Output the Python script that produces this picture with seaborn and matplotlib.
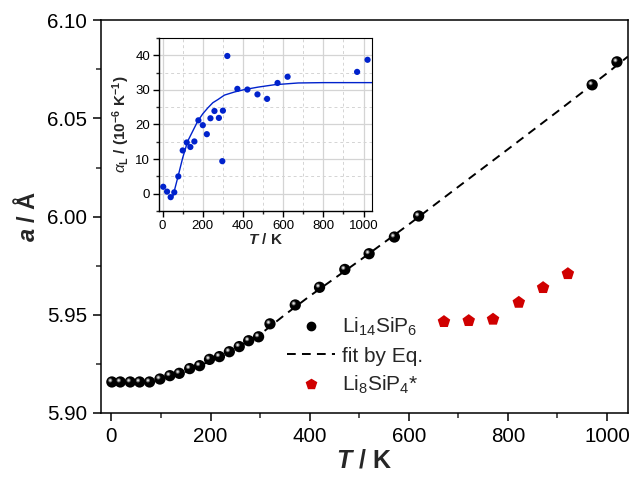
import numpy as np
import pandas as pd
import seaborn as sns
import matplotlib
matplotlib.use("Agg")
import matplotlib.pyplot as plt
from matplotlib.ticker import MultipleLocator, FormatStrFormatter
from matplotlib.transforms import offset_copy
from matplotlib.lines import Line2D

# ---------------- data ----------------
T_li14 = [1, 18, 38, 57, 77, 98, 118, 137, 158, 178, 198, 218, 238, 258, 277, 297,
          320, 371, 420, 471, 520, 571, 620, 970, 1020]
a_li14 = [5.9158, 5.9158, 5.9158, 5.9158, 5.9158, 5.9173, 5.9190, 5.9202, 5.9226, 5.9241,
          5.9273, 5.9287, 5.9312, 5.9338, 5.9368, 5.9388, 5.9454, 5.9550, 5.9640, 5.9731,
          5.9811, 5.9896, 6.0003, 6.0671, 6.0788]

T_fit = [0, 50, 100, 150, 200, 250, 300, 350, 400, 450, 500, 600, 700, 800, 900, 1000, 1042]
a_fit = [5.9157, 5.9158, 5.9170, 5.9210, 5.9265, 5.9328, 5.9400, 5.9500, 5.9595, 5.9685,
         5.9775, 5.9960, 6.0152, 6.0343, 6.0535, 6.0730, 6.0815]

T_li8 = [671, 721, 770, 822, 871, 921]
a_li8 = [5.9465, 5.9470, 5.9477, 5.9563, 5.9638, 5.9709]

T_alpha = [3, 22, 40, 58, 78, 100, 120, 138, 158, 178, 200, 220, 238, 258, 280, 300, 297,
           322, 372, 422, 472, 520, 572, 622, 968, 1020]
alpha = [2.0, 0.6, -1.0, 0.4, 5.0, 12.5, 14.8, 13.5, 15.1, 21.2, 19.8, 17.2, 21.8, 23.9,
         21.9, 24.0, 9.4, 39.8, 30.3, 30.1, 28.7, 27.4, 32.0, 33.8, 35.2, 38.7]

T_afit = [50, 75, 100, 125, 150, 175, 200, 225, 250, 275, 308, 358, 408, 475, 558, 675, 800, 1045]
alpha_fit = [-1.0, 4.6, 10.4, 15.2, 18.1, 21.0, 23.1, 24.8, 26.3, 27.2, 28.5, 29.4, 30.1,
             30.8, 31.5, 32.0, 32.1, 32.1]

xticks_main = [0, 200, 400, 600, 800, 1000]
yticks_main = [5.90, 5.95, 6.00, 6.05, 6.10]
yticks_inset = [0, 10, 20, 30, 40]

df_li14 = pd.DataFrame({"T": T_li14, "a": a_li14})
df_fit = pd.DataFrame({"T": T_fit, "a": a_fit})
df_li8 = pd.DataFrame({"T": T_li8, "a": a_li8})
df_alpha = pd.DataFrame({"T": T_alpha, "alpha": alpha})
df_afit = pd.DataFrame({"T": T_afit, "alpha": alpha_fit})

# ---------------- style ----------------
sns.set_theme(style="ticks")
plt.rcParams["font.family"] = ["Liberation Sans", "DejaVu Sans"]
plt.rcParams["mathtext.fontset"] = "custom"
plt.rcParams["mathtext.rm"] = "Liberation Sans"
plt.rcParams["mathtext.it"] = "Liberation Sans:italic"
plt.rcParams["mathtext.bf"] = "Liberation Sans:bold"
plt.rcParams["mathtext.bfit"] = "Liberation Sans:bold:italic"
plt.rcParams["axes.linewidth"] = 1.1

fig = plt.figure(figsize=(6.31, 4.79), dpi=100)
ax = fig.add_axes([0.160, 0.1378, 0.835, 0.820])

BLUE = "#0022CC"
RED = "#D00000"

# fit line
sns.lineplot(data=df_fit, x="T", y="a", ax=ax, color="black", lw=1.4,
             linestyle=(0, (4.5, 3.2)), zorder=2, sort=False)
# sphere-like black markers
sns.scatterplot(data=df_li14, x="T", y="a", ax=ax, color="black", s=66,
                edgecolor="none", linewidth=0, zorder=3)
hl1 = offset_copy(ax.transData, fig=fig, x=-1.6, y=1.6, units="dots")
sns.scatterplot(data=df_li14, x="T", y="a", ax=ax, color="#6a6a6a", s=9,
                edgecolor="none", linewidth=0, zorder=4, transform=hl1)
sns.scatterplot(data=df_li14, x="T", y="a", ax=ax, color="#e0e0e0", s=2.5,
                edgecolor="none", linewidth=0, zorder=5, transform=hl1)
# red pentagons
sns.scatterplot(data=df_li8, x="T", y="a", ax=ax, color=RED, marker="p", s=90,
                edgecolor="none", linewidth=0, zorder=3)

ax.set_xlim(-21, 1042)
ax.set_ylim(5.90, 6.10)
ax.set_xticks(xticks_main)
ax.set_yticks(yticks_main)
ax.xaxis.set_minor_locator(MultipleLocator(100))
ax.yaxis.set_minor_locator(MultipleLocator(0.025))
ax.yaxis.set_major_formatter(FormatStrFormatter("%.2f"))
ax.tick_params(which="major", direction="out", length=6, width=1.1, labelsize=14.8, pad=4,
               colors="black")
ax.tick_params(which="minor", direction="out", length=3.5, width=1.1)
for s in ax.spines.values():
    s.set_visible(True)
    s.set_color("black")
    s.set_linewidth(1.1)
ax.set_xlabel(r"$\mathbfit{T}$ / K", fontsize=18, fontweight="bold", labelpad=2)
ax.set_ylabel(r"$\mathbfit{a}$ / Å", fontsize=17, fontweight="bold", labelpad=5)

handles = [
    Line2D([], [], marker="o", color="black", ls="none", markersize=6),
    Line2D([], [], color="black", lw=1.4, ls=(0, (4.5, 3.2))),
    Line2D([], [], marker="p", color=RED, ls="none", markersize=7.5),
]
labels = [r"Li$_{14}$SiP$_6$", "fit by Eq.", r"Li$_8$SiP$_4$*"]
ax.legend(handles, labels, loc="upper left", bbox_to_anchor=(287 / 631, 1 - 316 / 479),
          bbox_transform=fig.transFigure, frameon=False, fontsize=15, borderpad=0,
          borderaxespad=0, handlelength=2.3, handletextpad=0.35, labelspacing=0.4)

# ---------------- inset ----------------
axi = fig.add_axes([0.252, 0.5595, 0.3375, 0.3612])
axi.set_xlim(-18, 1042)
axi.set_ylim(-5, 45)
axi.set_xticks(xticks_main)
axi.set_yticks(yticks_inset)
axi.xaxis.set_minor_locator(MultipleLocator(100))
axi.yaxis.set_minor_locator(MultipleLocator(5))
axi.grid(which="major", color="#d4d4d4", lw=0.9, ls="-")
axi.grid(which="minor", color="#d4d4d4", lw=0.7, ls=(0, (3, 3)))
axi.set_axisbelow(True)
sns.lineplot(data=df_afit, x="T", y="alpha", ax=axi, color=BLUE, lw=1.0, zorder=3, sort=False)
sns.scatterplot(data=df_alpha, x="T", y="alpha", ax=axi, color=BLUE, s=20,
                edgecolor="none", linewidth=0, zorder=4)
axi.set_xlim(-18, 1042)
axi.set_ylim(-5, 45)
axi.tick_params(which="major", direction="out", length=4.5, width=1.0, labelsize=9.5, pad=2,
                colors="black")
axi.tick_params(which="minor", direction="out", length=2.5, width=1.0)
for s in axi.spines.values():
    s.set_visible(True)
    s.set_color("black")
    s.set_linewidth(1.0)
axi.spines["top"].set_linewidth(0.8)
axi.spines["right"].set_linewidth(0.8)
axi.set_xlabel(r"$\mathbfit{T}$ / K", fontsize=11, fontweight="bold", labelpad=0)
axi.set_ylabel(r"$\alpha_\mathbf{L}$ / (10$^{\mathbf{-6}}$ K$^{\mathbf{-1}}$)", fontsize=11,
               fontweight="bold", labelpad=2)

fig.savefig("out.png", dpi=100)
